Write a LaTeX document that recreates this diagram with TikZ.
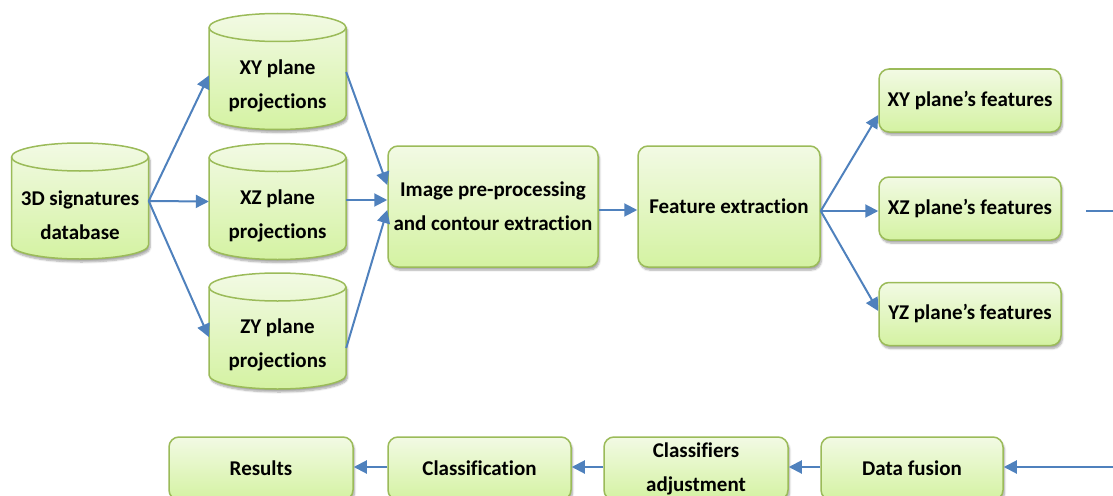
\documentclass[tikz,border=0pt]{standalone}
\usepackage{fontspec}
\setmainfont{Carlito}[Ligatures=NoCommon]
\usetikzlibrary{arrows.meta,shadows.blur}
\definecolor{boxline}{HTML}{9BBB59}
\definecolor{boxtop}{HTML}{F2FAE4}
\definecolor{boxbot}{HTML}{D4F2A2}
\definecolor{flow}{HTML}{4F81BD}
\tikzset{
  txt/.style={font=\bfseries\fontsize{21}{34}\selectfont, align=center},
  softshadow/.style={blur shadow={shadow xshift=1.5pt, shadow yshift=-3pt,
      shadow blur steps=6, shadow opacity=35}},
  stepbox/.style={txt, rounded corners=10pt, draw=boxline, line width=1.5pt,
      top color=boxtop, bottom color=boxbot, inner sep=0pt, softshadow},
  drumtext/.style={txt, inner sep=0pt, minimum width=137pt, minimum height=88pt},
  drumfill/.style={draw=boxline, line width=1.5pt, top color=boxtop,
      bottom color=boxbot, softshadow},
  drumrim/.style={draw=boxline, line width=1.5pt},
  flowwire/.style={draw=flow, line width=2pt},
  flowline/.style={flowwire, -{Triangle[length=13pt,width=13pt]}},
}
% database drum around the centre coordinate #1 (body 137 x 88, end radius 14)
\newcommand\dbdrum[1]{%
  \path[drumfill] ([shift={(-68.5,58)}]#1)
    -- ([shift={(-68.5,-30)}]#1)
    arc[start angle=180, end angle=360, x radius=68.5pt, y radius=14pt]
    -- ([shift={(68.5,58)}]#1)
    arc[start angle=0, end angle=180, x radius=68.5pt, y radius=14pt]
    -- cycle;
  \draw[drumrim] ([shift={(-68.5,58)}]#1)
    arc[start angle=180, end angle=360, x radius=68.5pt, y radius=14pt];}
\begin{document}
\begin{tikzpicture}[x=1pt, y=1pt]
  \useasboundingbox (0,0) rectangle (1113,-495);

  % data sources
  \coordinate (dbc) at (80,-215);
  \coordinate (xyc) at (277.5,-85.5);
  \coordinate (xzc) at (277.5,-215.5);
  \coordinate (zyc) at (277.5,-345);
  \dbdrum{dbc}\dbdrum{xyc}\dbdrum{xzc}\dbdrum{zyc}
  \node[drumtext] (db) at (dbc) {3D signatures\\database};
  \node[drumtext] (xy) at (xyc) {XY plane\\projections};
  \node[drumtext] (xz) at (xzc) {XZ plane\\projections};
  \node[drumtext] (zy) at (zyc) {ZY plane\\projections};

  % processing chain
  \node[stepbox, minimum width=210pt, minimum height=121pt] (ip) at (493,-206.5)
    {Image pre-processing\\and contour extraction};
  \node[stepbox, minimum width=182pt, minimum height=121pt] (fe) at (729,-206.5)
    {Feature extraction};
  \node[stepbox, minimum width=182pt, minimum height=63pt] (xyf) at (970,-100.5)
    {XY plane’s features};
  \node[stepbox, minimum width=182pt, minimum height=63pt] (xzf) at (970,-208.5)
    {XZ plane’s features};
  \node[stepbox, minimum width=182pt, minimum height=63pt] (yzf) at (970,-314)
    {YZ plane’s features};

  % decision chain (runs past the lower edge)
  \node[stepbox, minimum width=182pt, minimum height=63pt] (df) at (912,-468.5)
    {Data fusion};
  \node[stepbox, minimum width=184pt, minimum height=63pt] (ca) at (696,-468.5)
    {Classifiers\\adjustment};
  \node[stepbox, minimum width=183pt, minimum height=63pt] (cl) at (479.5,-468.5)
    {Classification};
  \node[stepbox, minimum width=184pt, minimum height=63pt] (res) at (261,-468.5)
    {Results};

  % connectors
  \draw[flowline] ([yshift=14pt]db.east) -- ([yshift=10pt]xy.west);
  \draw[flowline] ([yshift=14pt]db.east) -- ([yshift=14pt]xz.west);
  \draw[flowline] ([yshift=14pt]db.east) -- ([yshift=8pt]zy.west);

  \draw[flowline] ([yshift=13.5pt]xy.east) -- ([yshift=21.5pt]ip.west);
  \draw[flowline] ([yshift=15.5pt]xz.east) -- ([yshift=6.5pt]ip.west);
  \draw[flowline] ([yshift=-3pt]zy.east) -- ([yshift=-3.5pt]ip.west);

  \draw[flowline] ([yshift=-3.5pt]ip.east) -- ([yshift=-3.5pt]fe.west);

  \draw[flowline] ([yshift=-4.5pt]fe.east) -- ([yshift=-14.5pt]xyf.west);
  \draw[flowline] ([yshift=-4.5pt]fe.east) -- ([yshift=-2.5pt]xzf.west);
  \draw[flowline] ([yshift=-4.5pt]fe.east) -- ([yshift=3pt]yzf.west);

  \coordinate (outA) at (1086,-211);
  \coordinate (outB) at (1113,-211);
  \draw[flowwire] (outA) -- (outB);

  \coordinate (inA) at (1113,-467);
  \draw[flowline] (inA) -- ([yshift=1.5pt]df.east);
  \draw[flowline] ([yshift=1.5pt]df.west) -- ([yshift=1.5pt]ca.east);
  \draw[flowline] ([yshift=1.5pt]ca.west) -- ([yshift=1.5pt]cl.east);
  \draw[flowline] ([yshift=1.5pt]cl.west) -- ([yshift=1.5pt]res.east);
\end{tikzpicture}
\end{document}
